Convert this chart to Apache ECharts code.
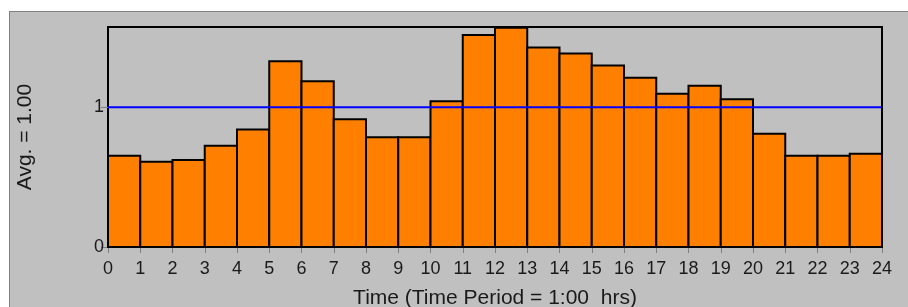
<!DOCTYPE html>
<html>
<head>
<meta charset="utf-8">
<script src="https://cdn.jsdelivr.net/npm/echarts@6/dist/echarts.min.js"></script>
<style>
  html, body { margin: 0; padding: 0; background: #ffffff; }
  .panel {
    position: absolute;
    left: 9px;
    top: 11px;
    width: 899px;
    height: 296px;
    background: #c0c0c0;
    border-left: 1px solid #808080;
    border-top: 1px solid #808080;
    box-sizing: border-box;
  }
  #chart { position: absolute; left: 0; top: 0; width: 908px; height: 307px; }
</style>
</head>
<body>
<div class="panel"></div>
<div id="chart"></div>
<script>
  // hourly ratio to average, one value per 1:00 period starting at 0
  var hours = [0, 1, 2, 3, 4, 5, 6, 7, 8, 9, 10, 11, 12, 13, 14, 15, 16, 17, 18, 19, 20, 21, 22, 23];
  var ratios = [0.654, 0.611, 0.623, 0.725, 0.842, 1.329, 1.186, 0.914, 0.785, 0.785, 1.043, 1.518,
                1.569, 1.429, 1.386, 1.300, 1.212, 1.097, 1.155, 1.057, 0.811, 0.654, 0.654, 0.668];
  var avgValue = 1.00;
  var yTicks = [0, 1];

  var barData = hours.map(function (h, i) { return [h, ratios[i]]; });

  var myChart = echarts.init(document.getElementById('chart'));
  var option = {
    backgroundColor: 'transparent',
    animation: false,
    textStyle: { fontFamily: 'Liberation Sans, Arial, sans-serif' },
    grid: {
      left: 108, top: 27, width: 774, height: 220,
      outerBoundsMode: 'none',
      show: true, borderColor: '#000', borderWidth: 2, backgroundColor: 'transparent'
    },
    xAxis: {
      type: 'value',
      min: 0, max: 24, interval: 1,
      name: 'Time (Time Period = 1:00  hrs)',
      nameLocation: 'middle',
      nameGap: 41,
      nameTextStyle: { color: '#1a1a1a', fontSize: 21 },
      axisLine: { lineStyle: { color: '#000', width: 2 } },
      axisTick: { length: 6, lineStyle: { color: '#808080', width: 1 } },
      axisLabel: { color: '#1a1a1a', fontSize: 18, margin: 13 },
      splitLine: { show: false }
    },
    yAxis: {
      type: 'value',
      min: 0, max: 1.575,
      name: 'Avg. = ' + avgValue.toFixed(2),
      nameLocation: 'middle',
      nameGap: 72,
      nameTextStyle: { color: '#1a1a1a', fontSize: 21 },
      axisLine: { show: true, lineStyle: { color: '#000', width: 2 } },
      axisTick: { length: 7, customValues: yTicks, lineStyle: { color: '#808080', width: 1 } },
      axisLabel: { color: '#1a1a1a', fontSize: 18, margin: 4, customValues: yTicks },
      splitLine: { show: false }
    },
    series: [
      {
        type: 'custom',
        data: barData,
        renderItem: function (params, api) {
          var h = api.value(0);
          var p0 = api.coord([h, 0]);
          var p1 = api.coord([h + 1, api.value(1)]);
          return {
            type: 'rect',
            shape: { x: p0[0], y: p1[1], width: p1[0] - p0[0], height: p0[1] - p1[1] },
            style: { fill: '#ff8000', stroke: '#000', lineWidth: 2 }
          };
        },
        z: 2
      },
      {
        type: 'line',
        data: [[0, avgValue], [24, avgValue]],
        symbol: 'none',
        lineStyle: { color: '#0000ff', width: 2 },
        z: 3
      }
    ]
  };
  myChart.setOption(option);
</script>
</body>
</html>
